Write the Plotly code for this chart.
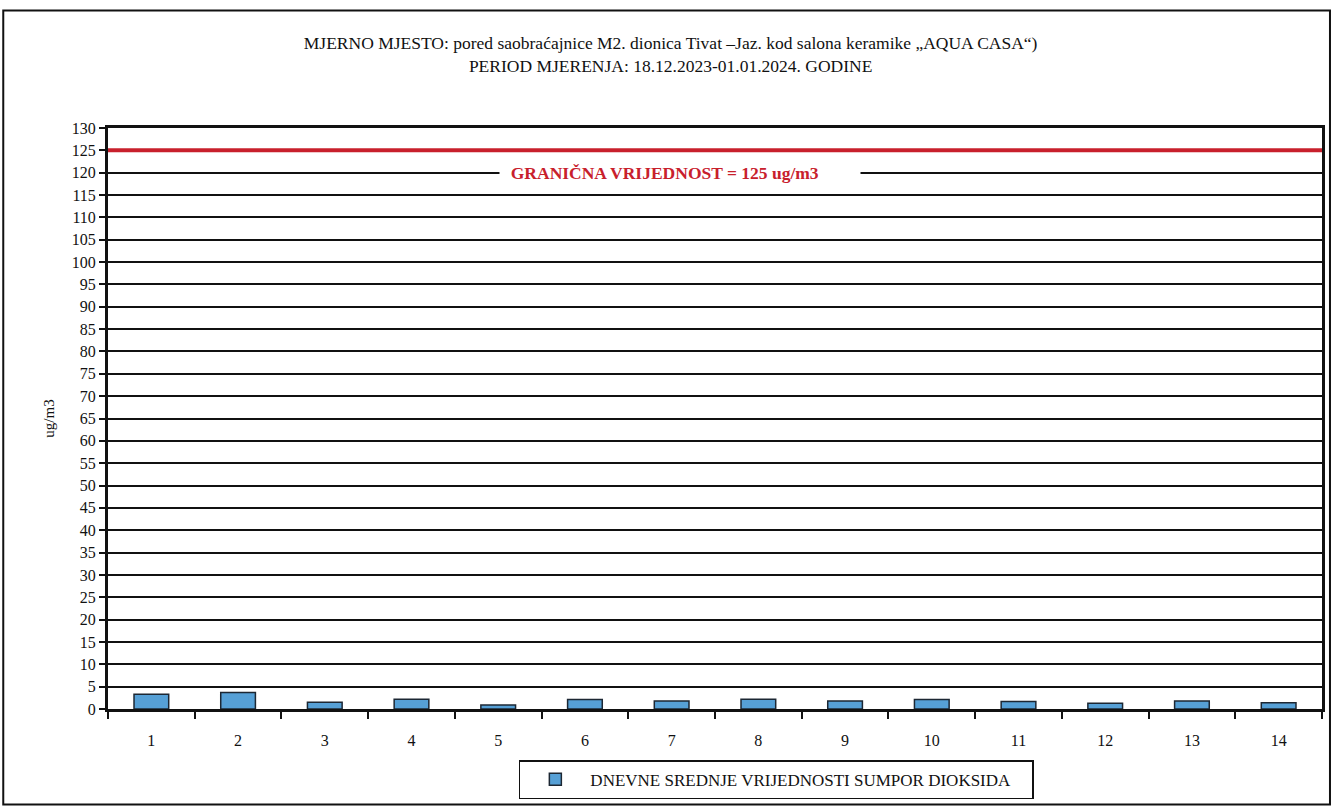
import plotly.graph_objects as go

days = [str(i) for i in range(1, 15)]
so2_values = [3.3, 3.7, 1.5, 2.2, 0.9, 2.1, 1.8, 2.2, 1.8, 2.1, 1.7, 1.3, 1.8, 1.4]
limit_value = 125
series_name = "DNEVNE SREDNJE VRIJEDNOSTI SUMPOR DIOKSIDA"
title_lines = [
    "MJERNO MJESTO: pored saobraćajnice M2. dionica Tivat –Jaz. kod salona keramike „AQUA CASA“)",
    "PERIOD MJERENJA: 18.12.2023-01.01.2024. GODINE",
]
limit_label = "GRANIČNA VRIJEDNOST = 125 ug/m3"
y_label = "ug/m3"

W, H = 1336, 810
L, R, T, B = 108, 11, 128, 98
pw, ph = W - L - R, H - T - B

def px_x(p):
    return (p - L) / pw

def px_y(p):
    return (H - B - p) / ph

serif = "Liberation Serif, DejaVu Serif, serif"

fig = go.Figure()
fig.add_trace(go.Bar(
    x=days, y=so2_values, name=series_name + "&nbsp;" * 4,
    marker=dict(color="#56a0d6", line=dict(color="#1c2733", width=1.5)),
    showlegend=True,
))

fig.update_layout(
    width=W, height=H,
    margin=dict(l=L, r=R, t=T, b=B),
    paper_bgcolor="white", plot_bgcolor="white",
    bargap=0.6,
    font=dict(family=serif, color="#111111"),
    title=dict(
        text="<br>".join(title_lines),
        x=px_x(672), xref="paper", xanchor="center",
        y=1 - 49 / H, yanchor="middle",
        font=dict(family=serif, size=17.5, color="#111111"),
    ),
    showlegend=True,
    legend=dict(
        x=px_x(778), y=px_y(783), xanchor="center", yanchor="middle",
        orientation="h",
        bordercolor="#111111", borderwidth=1.5, bgcolor="white",
        font=dict(family=serif, size=17, color="#111111"),
        itemwidth=60,
    ),
)

fig.update_xaxes(
    type="category", tickson="boundaries", ticks="outside", ticklen=7,
    tickwidth=1.5, tickcolor="#111111",
    showline=True, linecolor="#111111", linewidth=3, mirror=True,
    showgrid=False, ticklabelstandoff=15,
    tickfont=dict(family=serif, size=16, color="#111111"),
)
fig.update_yaxes(
    range=[0, 130], dtick=5, tick0=0,
    ticks="outside", ticklen=6, tickwidth=1.5, tickcolor="#111111",
    showline=True, linecolor="#111111", linewidth=3, mirror=True,
    showgrid=True, gridcolor="#111111", gridwidth=1.5,
    zeroline=False,
    tickfont=dict(family=serif, size=16, color="#111111"),
    title=dict(text=y_label, standoff=14, font=dict(family=serif, size=15, color="#111111")),
)

# limit line
fig.add_shape(type="line", xref="paper", yref="y", x0=0, x1=1,
              y0=limit_value, y1=limit_value,
              line=dict(color="#c8202c", width=4))
fig.add_annotation(
    xref="paper", yref="y", x=px_x(500), y=limit_value - 5,
    text="&nbsp;&nbsp;<b>" + limit_label + "</b>" + "&nbsp;" * 9,
    showarrow=False, bgcolor="white", borderpad=2,
    font=dict(family=serif, size=17.5, color="#c8202c"),
    xanchor="left", yanchor="middle",
)

# outer frame
fig.add_shape(type="rect", xref="paper", yref="paper",
              x0=px_x(3), x1=px_x(1333), y0=px_y(808), y1=px_y(10),
              line=dict(color="#111111", width=2), fillcolor="rgba(0,0,0,0)",
              layer="below")

fig.write_html(
    "out.html",
    config={"displayModeBar": False},
    post_script="document.body.style.margin='0';document.body.style.overflow='hidden';",
)
